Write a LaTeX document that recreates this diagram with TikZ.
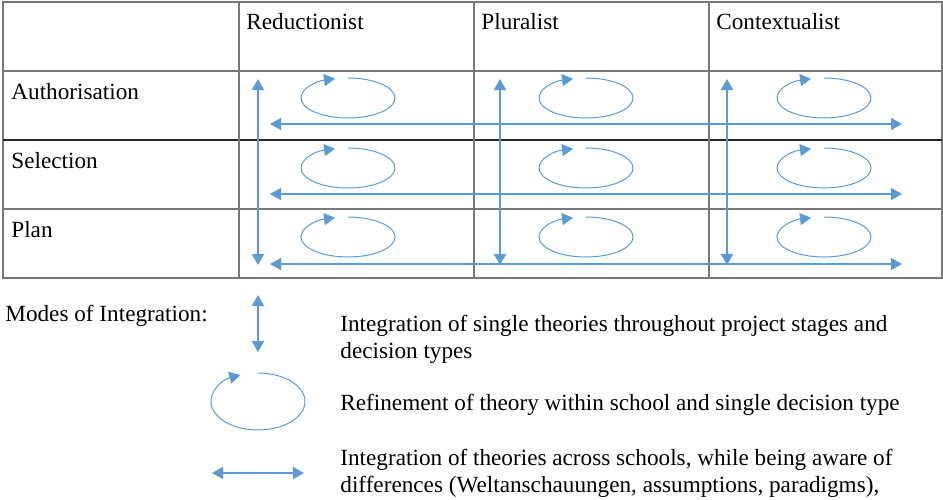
\documentclass[tikz,border=0pt]{standalone}
\usepackage{fontspec}
\setmainfont{Liberation Serif}
\usetikzlibrary{arrows.meta}

\definecolor{arrowblue}{RGB}{91,155,213}
\definecolor{gridgray}{RGB}{120,120,120}

\tikzset{
  cell text/.style={anchor=base west, inner sep=0pt, font=\fontsize{11.6}{13.5}\selectfont},
  legend text/.style={cell text, align=left},
  grid line/.style={draw=gridgray, line width=0.75pt},
  both arrow/.style={{Triangle[length=5.5pt,width=6pt]}-{Triangle[length=5.5pt,width=6pt]}, color=arrowblue, line width=0.7pt},
  loop arrow/.style={-{Triangle[length=5.5pt,width=6pt]}, color=arrowblue, line width=0.5pt}
}

\begin{document}
\begin{tikzpicture}[x=0.5pt, y=-0.5pt]
  \useasboundingbox (0,0) rectangle (943,499);

  % table
  \draw[grid line] (3,2) rectangle (942,278);
  \draw[grid line] (3,71) -- (942,71);
  \draw[grid line, draw=black!85] (3,140) -- (942,140);
  \draw[grid line] (3,209) -- (942,209);
  \draw[grid line] (239,2) -- (239,278);
  \draw[grid line] (474,2) -- (474,278);
  \draw[grid line] (709,2) -- (709,278);

  % headings
  \node[cell text] (red) at (246,29) {Reductionist};
  \node[cell text] (plu) at (481,29) {Pluralist};
  \node[cell text] (con) at (716,29) {Contextualist};
  \node[cell text] (auth) at (11,99) {Authorisation};
  \node[cell text] (sel) at (11,168) {Selection};
  \node[cell text] (plan) at (11,237) {Plan};

  % arrow ends
  \coordinate (redT) at (258,79);  \coordinate (redB) at (258,265);
  \coordinate (pluT) at (500,79);  \coordinate (pluB) at (500,265);
  \coordinate (conT) at (727,79);  \coordinate (conB) at (727,265);
  \coordinate (authL) at (270,124); \coordinate (authR) at (902,124);
  \coordinate (selL) at (270,194);  \coordinate (selR) at (902,194);
  \coordinate (planL) at (270,264); \coordinate (planR) at (902,264);

  \draw[both arrow] (redT) -- (redB);
  \draw[both arrow] (pluT) -- (pluB);
  \draw[both arrow] (conT) -- (conB);
  \draw[both arrow] (authL) -- (authR);
  \draw[both arrow] (selL) -- (selR);
  \draw[both arrow] (planL) -- (planR);

  % refinement loops
  \draw[loop arrow] (348,78) arc[start angle=-90, end angle=254, x radius=47, y radius=20];
  \draw[loop arrow] (586,78) arc[start angle=-90, end angle=254, x radius=47, y radius=20];
  \draw[loop arrow] (824,78) arc[start angle=-90, end angle=254, x radius=47, y radius=20];
  \draw[loop arrow] (348,148) arc[start angle=-90, end angle=254, x radius=47, y radius=20];
  \draw[loop arrow] (586,148) arc[start angle=-90, end angle=254, x radius=47, y radius=20];
  \draw[loop arrow] (824,148) arc[start angle=-90, end angle=254, x radius=47, y radius=20];
  \draw[loop arrow] (348,217) arc[start angle=-90, end angle=254, x radius=47, y radius=20];
  \draw[loop arrow] (586,217) arc[start angle=-90, end angle=254, x radius=47, y radius=20];
  \draw[loop arrow] (824,217) arc[start angle=-90, end angle=254, x radius=47, y radius=20];

  % legend
  \node[cell text] (modes) at (5,321) {Modes of Integration:};
  \coordinate (keyT) at (258,295); \coordinate (keyB) at (258,352);
  \coordinate (keyL) at (212,473); \coordinate (keyR) at (304,473);
  \draw[both arrow] (keyT) -- (keyB);
  \draw[loop arrow] (258,373) arc[start angle=-90, end angle=248, x radius=47, y radius=28.5];
  \draw[both arrow] (keyL) -- (keyR);
  \node[legend text] (single) at (340,358) {Integration of single theories throughout project stages and\\decision types};
  \node[legend text] (refine) at (340,410) {Refinement of theory within school and single decision type};
  \node[legend text] (across) at (340,492) {Integration of theories across schools, while being aware of\\differences (Weltanschauungen, assumptions, paradigms),};
\end{tikzpicture}
\end{document}
